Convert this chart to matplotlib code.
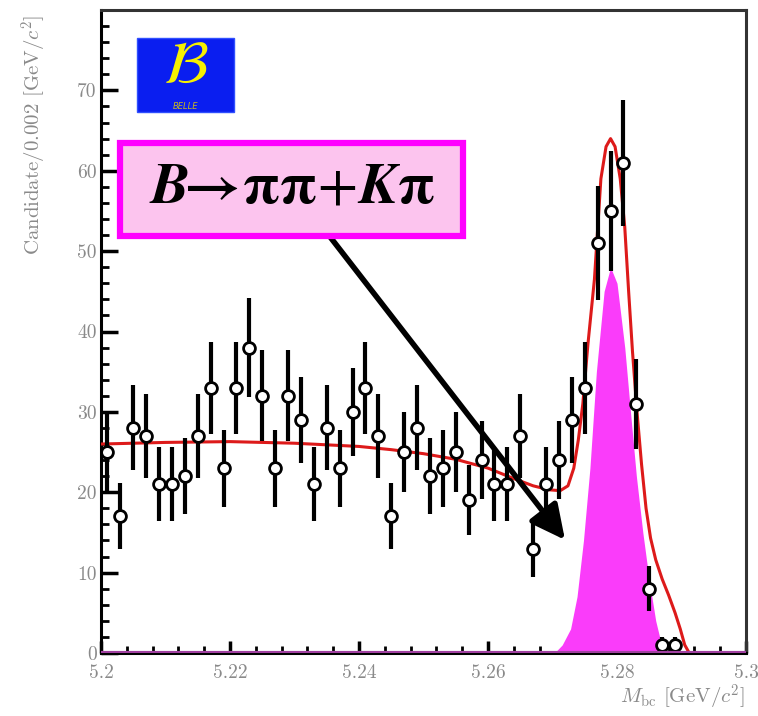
import numpy as np
import matplotlib
matplotlib.use("Agg")
import matplotlib.pyplot as plt
from matplotlib.patches import Rectangle
from matplotlib.ticker import MultipleLocator, FixedLocator, FormatStrFormatter

plt.rcParams['mathtext.fontset'] = 'cm'
plt.rcParams['axes.formatter.use_mathtext'] = True

# Datos: histograma Mbc, bins de 0.002 desde 5.2
bin_lo = 5.2
bin_w = 0.002
counts = [25, 17, 28, 27, 21, 21, 22, 27, 33, 23,
          33, 38, 32, 23, 32, 29, 21, 28, 23, 30,
          33, 27, 17, 25, 28, 22, 23, 25, 19, 24,
          21, 21, 27, 13, 21, 24, 29, 33, 51, 55,
          61, 31, 8, 1, 1]

# curva del ajuste total (roja)
fit_x = [5.200, 5.210, 5.220, 5.230, 5.240, 5.245, 5.250, 5.255, 5.260, 5.264,
         5.267, 5.2695, 5.2712, 5.2724, 5.2733, 5.2740, 5.2747, 5.2755, 5.2765, 5.2775,
         5.2783, 5.2790, 5.2797, 5.2805, 5.2812, 5.2818, 5.2824, 5.2831, 5.2838, 5.2845,
         5.2852, 5.2860, 5.2870, 5.2880, 5.2890, 5.2898, 5.2905, 5.2912, 5.2920]
fit_y = [26.0, 26.2, 26.3, 26.1, 25.7, 25.3, 24.8, 24.1, 23.0, 21.7,
         20.8, 20.3, 20.2, 20.8, 23.0, 26.5, 31.0, 38.5, 46.5, 59.0,
         63.0, 64.0, 63.0, 59.0, 53.0, 45.0, 37.5, 30.0, 23.5, 18.0,
         14.3, 11.6, 9.2, 7.2, 5.0, 3.0, 1.0, 0.0, 0.0]

# componente de senal (magenta)
sig_x = [5.2703, 5.2715, 5.2728, 5.2738, 5.2748, 5.2758, 5.2768, 5.2780, 5.2790, 5.2800,
         5.2812, 5.2822, 5.2830, 5.2840, 5.2850, 5.2860, 5.2869, 5.2876]
sig_y = [0, 1.0, 3.0, 7.0, 14.0, 23.0, 35.0, 45.0, 48.0, 46.0,
         38.0, 29.0, 22.0, 15.0, 9.0, 4.0, 1.0, 0]

centers = bin_lo + bin_w * (np.arange(len(counts)) + 0.5)
errs = np.sqrt(counts)

fig = plt.figure(figsize=(7.58, 7.16), dpi=100)
ax = fig.add_axes([0.1332, 0.088, 0.851, 0.898])

ax.fill_between(sig_x, sig_y, color='#fa3cfa', lw=0, zorder=2)
ax.plot(fit_x, fit_y, color='#dd1a1a', lw=2.2, zorder=3)
ax.axhline(0, color='#a040a0', lw=3, zorder=5)
ax.errorbar(centers, counts, yerr=errs, fmt='o', ms=8.5, mfc='white', mec='black',
            mew=2, ecolor='black', elinewidth=3, capsize=0, zorder=4)

ax.set_xlim(5.2, 5.3)
ax.set_ylim(0, 80)

ax.xaxis.set_major_locator(MultipleLocator(0.02))
ax.xaxis.set_minor_locator(MultipleLocator(0.004))
ax.yaxis.set_major_locator(FixedLocator([0, 10, 20, 30, 40, 50, 60, 70]))
ax.yaxis.set_minor_locator(MultipleLocator(2))
ax.xaxis.set_major_formatter(FormatStrFormatter('%g'))
ax.yaxis.set_major_formatter(FormatStrFormatter('%g'))
ax.tick_params(axis='both', which='both', direction='in', top=False, right=False,
               colors='black', labelcolor='#8a8a8a', labelsize=14)
ax.tick_params(axis='y', which='major', length=12, width=2.5, pad=3)
ax.tick_params(axis='y', which='minor', length=6, width=2)
ax.tick_params(axis='x', which='major', length=9, width=2.5, pad=8)
ax.tick_params(axis='x', which='minor', length=5, width=2)
for lab in ax.get_xticklabels() + ax.get_yticklabels():
    lab.set_family('cmr10')
for s in ax.spines.values():
    s.set_linewidth(2.2)
    s.set_color('black')
ax.spines['top'].set_color('#333333')
ax.spines['right'].set_color('#333333')

fig.text(0.045, 0.979, r'Candidate/0.002 [GeV/$c^2$]', rotation=90, ha='center',
         va='top', color='#8a8a8a', fontsize=15, family='cmr10')
fig.text(0.983, 0.026, r'$M_{\rm bc}$ [GeV/$c^2$]', ha='right', va='center',
         color='#8a8a8a', fontsize=15, family='cmr10')

# flecha
ax.annotate('', xy=(5.2722, 13.8), xytext=(5.2353, 52.0),
            arrowprops=dict(arrowstyle='-|>', lw=4, color='black', mutation_scale=52),
            zorder=6)

# caja con texto
ax.add_patch(Rectangle((0.0295, 0.6485), 0.5315, 0.1445, transform=ax.transAxes,
                       facecolor='#fcc4ee', edgecolor='#ff00ff', lw=4.5, zorder=7))
ax.text(0.296, 0.727, r'$\mathbfit{B}\!\!\mathbf{\rightarrow\!\pi\pi}\!+\!\mathbfit{K}\mathbf{\pi}$',
        transform=ax.transAxes, ha='center', va='center', fontsize=42,
        math_fontfamily='stix', color='black', zorder=8)

# logo Belle
ax.add_patch(Rectangle((0.0558, 0.841), 0.150, 0.115, transform=ax.transAxes,
                       facecolor='#0a1ef0', edgecolor='#3050ff', lw=1, zorder=7))
ax.text(0.131, 0.913, r'$\mathcal{B}$', transform=ax.transAxes, ha='center',
        va='center', fontsize=44, color='#f5f000', math_fontfamily='stix', zorder=8)
ax.text(0.131, 0.850, 'BELLE', transform=ax.transAxes, ha='center', va='center',
        fontsize=6, style='italic', color='#c8b820', zorder=8)

plt.savefig('out.png', dpi=100)
